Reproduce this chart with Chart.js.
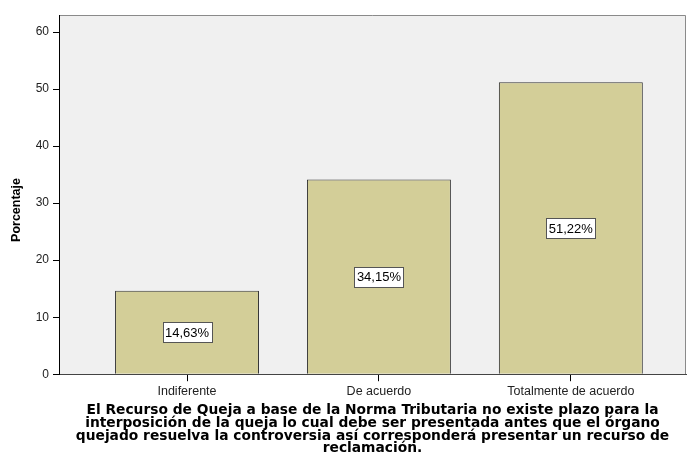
<!DOCTYPE html>
<html>
<head>
<meta charset="utf-8">
<script src="https://cdn.jsdelivr.net/npm/chart.js@4.4.1/dist/chart.umd.min.js"></script>
<style>
  html, body { margin: 0; padding: 0; background: #fff; }
  #wrap { width: 691px; height: 473px; }
</style>
</head>
<body>
<div id="wrap"><canvas id="barChart"></canvas></div>
<script>
// data
const categories = ['Indiferente', 'De acuerdo', 'Totalmente de acuerdo'];
const percentages = [14.63, 34.15, 51.22];
const yTicks = [0, 10, 20, 30, 40, 50, 60];
const yTitle = 'Porcentaje';
const titleLines = [
    'El Recurso de Queja a base de la Norma Tributaria no existe plazo para la',
    'interposición de la queja lo cual debe ser presentada antes que el órgano',
    'quejado resuelva la controversia así corresponderá presentar un recurso de',
    'reclamación.'
];

const FONT = '"Liberation Sans", Arial, sans-serif';

// grey plot background + thin frame on top/right, like SPSS output
const plotFrame = {
    id: 'plotFrame',
    beforeDraw(chart) {
        const { ctx, chartArea: a } = chart;
        ctx.save();
        ctx.fillStyle = '#F0F0F0';
        ctx.fillRect(a.left, a.top, a.right - a.left, a.bottom - a.top);
        ctx.strokeStyle = '#8a8a8a';
        ctx.lineWidth = 1;
        ctx.beginPath();
        ctx.moveTo(a.left, a.top + 0.5);
        ctx.lineTo(a.right - 0.5, a.top + 0.5);
        ctx.lineTo(a.right - 0.5, a.bottom);
        ctx.stroke();
        ctx.restore();
    }
};

// y axis title sits a bit below the axis middle in the original
const axisTitle = {
    id: 'axisTitle',
    afterDraw(chart) {
        const { ctx } = chart;
        ctx.save();
        ctx.translate(17, 210);
        ctx.rotate(-Math.PI / 2);
        ctx.font = 'bold 12.5px ' + FONT;
        ctx.fillStyle = '#000';
        ctx.textAlign = 'center';
        ctx.textBaseline = 'middle';
        ctx.fillText(yTitle, 0, 0);
        ctx.restore();
    }
};

// boxed value labels in the middle of each bar
const boxLabels = {
    id: 'boxLabels',
    afterDatasetsDraw(chart) {
        const { ctx } = chart;
        const meta = chart.getDatasetMeta(0);
        ctx.save();
        ctx.font = '13px ' + FONT;
        ctx.textAlign = 'center';
        ctx.textBaseline = 'middle';
        meta.data.forEach((bar, i) => {
            const text = percentages[i].toFixed(2).replace('.', ',') + '%';
            const cx = bar.x;
            const cy = (bar.y + bar.base) / 2;
            const w = Math.round(ctx.measureText(text).width + 5);
            const h = 20;
            const x0 = Math.round(cx - w / 2) + 0.5;
            const y0 = Math.round(cy - h / 2) + 0.5;
            ctx.fillStyle = '#fff';
            ctx.fillRect(x0, y0, w, h);
            ctx.strokeStyle = '#555';
            ctx.lineWidth = 1;
            ctx.strokeRect(x0, y0, w, h);
            ctx.fillStyle = '#000';
            ctx.fillText(text, cx, cy + 1);
        });
        ctx.restore();
    }
};

new Chart(document.getElementById('barChart'), {
    type: 'bar',
    data: {
        datasets: [{
            data: percentages.map((v, i) => ({ x: i, y: v })),
            backgroundColor: '#D3CE98',
            borderColor: '#333',
            borderWidth: 1,
            barPercentage: 0.75,
            categoryPercentage: 1
        }]
    },
    options: {
        responsive: true,
        maintainAspectRatio: false,
        animation: false,
        layout: { padding: { top: 15, right: 5, left: 0, bottom: 18 } },
        plugins: {
            legend: { display: false },
            tooltip: { enabled: false },
            title: {
                display: true,
                position: 'bottom',
                fullSize: false,
                text: titleLines,
                color: '#000',
                font: { family: '"DejaVu Sans", sans-serif', size: 13.8, weight: 'bold', lineHeight: 0.92 },
                padding: { top: 4, bottom: 0 }
            }
        },
        scales: {
            x: {
                type: 'linear',
                min: -0.667,
                max: 2.6,
                offset: false,
                afterBuildTicks: axis => { axis.ticks = categories.map((c, i) => ({ value: i })); },
                afterFit: axis => { axis.height = 26; },
                grid: { drawOnChartArea: false, offset: false, tickLength: 7, color: '#000' },
                border: { color: '#444', width: 1 },
                ticks: {
                    autoSkip: false,
                    maxRotation: 0,
                    padding: 3,
                    color: '#222',
                    font: { family: FONT, size: 12.5 },
                    callback: v => categories[v]
                }
            },
            y: {
                min: 0,
                max: 63,
                afterBuildTicks: axis => { axis.ticks = yTicks.map(v => ({ value: v })); },
                afterFit: axis => { axis.width = 59; },
                grid: { drawOnChartArea: false, tickLength: 6, color: '#000' },
                border: { color: '#000', width: 1 },
                ticks: {
                    padding: 4,
                    color: '#222',
                    font: { family: FONT, size: 12 }
                }
            }
        }
    },
    plugins: [plotFrame, boxLabels, axisTitle]
});
</script>
</body>
</html>
